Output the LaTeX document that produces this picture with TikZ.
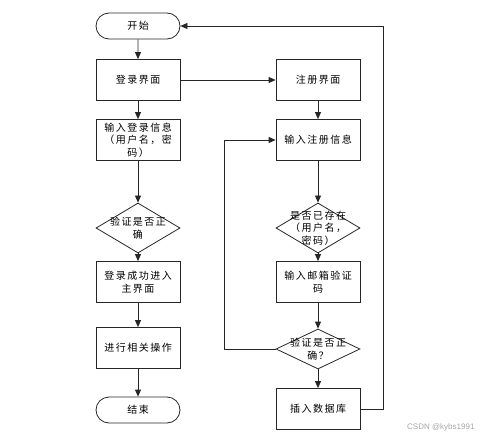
\documentclass[tikz,border=0pt]{standalone}
\usepackage{fontspec}
\newfontfamily\cjk[LetterSpace=15]{Noto Sans CJK SC}
\newfontfamily\wmfont{Liberation Sans}
\usetikzlibrary{arrows.meta,shapes.geometric,shapes.misc}
\tikzset{
  flowtext/.style = {align=center, font=\cjk\fontsize{10}{12.5}\selectfont},
  stepbox/.style = {flowtext, draw=black!85, line width=0.8pt, inner sep=0pt,
    minimum width=84pt, minimum height=41pt},% rectangle de traitement
  term/.style = {flowtext, draw=black!85, line width=0.8pt, rounded rectangle,
    inner sep=0pt, minimum width=84pt, minimum height=26pt},% debut / fin
  choice/.style = {draw=black!85, line width=0.8pt, diamond, inner sep=0pt,
    minimum width=84pt, minimum height=#1},% losange de test
  choice/.default = 50pt,
  choicetext/.style = {flowtext, inner sep=0pt},
  link/.style = {->, line width=0.8pt, draw=black!85},
}

\begin{document}
\begin{tikzpicture}[x=1pt,y=-1pt,>={Triangle[length=7pt,width=6pt]}]
\useasboundingbox (0,0) rectangle (480,439);
% colonne gauche : connexion
\node [term] (start) at (138,26) {开始};
\node [stepbox] (login) at (138,80) {登录界面};
\node [stepbox] (loginfo) at (138,140) {输入登录信息\\（用户名，密\\码）};
\node [choice] (check) at (138,228) {};
\node [choicetext] at (check.center) {验证是否正\\确};
\node [stepbox] (main) at (138,282) {登录成功进入\\主界面};
\node [stepbox] (work) at (138,348) {进行相关操作};
\node [term] (stop) at (138,410) {结束};
% colonne droite : inscription
\node [stepbox] (reg) at (318,80) {注册界面};
\node [stepbox] (reginfo) at (318,140) {输入注册信息};
\node [choice] (exist) at (318,228) {};
\node [choicetext] at (exist.center) {是否已存在\\（用户名，\\密码）};
\node [stepbox] (mail) at (318,282) {输入邮箱验证\\码};
\node [choice=40pt] (code) at (318,349) {};
\node [choicetext] at (code.center) {验证是否正\\确？};
\node [stepbox] (save) at (318,409) {插入数据库};
\node [font=\wmfont\fontsize{8}{9}\selectfont, text=black!35, anchor=east]
  (wm) at (478,427) {CSDN @kybs1991};

\draw [link] (start) -- (login);
\draw [link] (login) -- (loginfo);
\draw [link] (loginfo) -- (check);
\draw [link] (check) -- (main);
\draw [link] (main) -- (work);
\draw [link] (work) -- (stop);
\draw [link] (login) -- (reg);
\draw [link] (reg) -- (reginfo);
\draw [link] (reginfo) -- (exist);
\draw [link] (exist) -- (mail);
\draw [link] (mail) -- (code);
\draw [link] (code) -- (save);
\draw [link] (code.west) -- ++(-51,0) |- (reginfo.west);
\draw [link] (save.east) -- ++(23,0) |- (start.east);
\end{tikzpicture}
\end{document}
